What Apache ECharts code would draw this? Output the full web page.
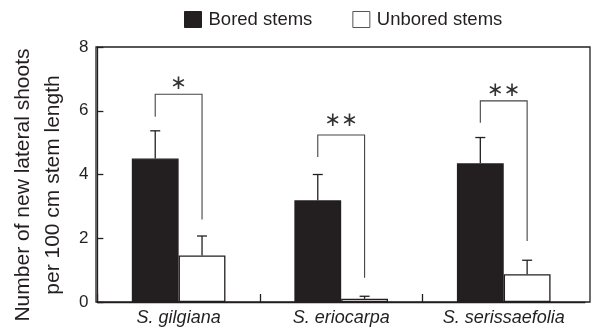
<!DOCTYPE html>
<html>
<head>
<meta charset="utf-8">
<script src="https://cdn.jsdelivr.net/npm/echarts@6/dist/echarts.min.js"></script>
<style>html,body{margin:0;padding:0;background:#fff;}#c{width:592px;height:332px;}</style>
</head>
<body>
<div id="c"></div>
<script>
const categories = ['S. gilgiana', 'S. eriocarpa', 'S. serissaefolia'];
const seriesNames = ['Bored stems', 'Unbored stems'];
const boredMean = [4.50, 3.19, 4.35];
const boredErr = [0.87, 0.81, 0.81];
const unboredMean = [1.46, 0.10, 0.87];
const unboredErr = [0.61, 0.08, 0.44];
const sigLabels = ['*', '**', '**'];
const bracketTop = [6.52, 5.24, 6.31];
const bracketLeftEnd = [5.81, 4.55, 5.62];
const bracketRightEnd = [2.59, 0.76, 1.91];
const sigLabelY = [6.85, 5.67, 6.62];
const yTicks = [0, 2, 4, 6, 8];
const yLabelLines = ['Number of new lateral shoots', 'per 100 cm stem length'];

const INK = '#231f20';
const BAR_FRAC = 0.288;

const chart = echarts.init(document.getElementById('c'), null, {renderer: 'canvas'});

function errItem(sign) {
  return function (params, api) {
    const i = api.value(0);
    const v = api.value(1);
    const e = api.value(2);
    const band = api.size([1, 0])[0];
    const dx = sign * band * BAR_FRAC / 2;
    const p0 = api.coord([i, v]);
    const p1 = api.coord([i, v + e]);
    const x = p0[0] + dx;
    return {
      type: 'group',
      children: [
        {type: 'line', shape: {x1: x, y1: p0[1], x2: x, y2: p1[1]}, style: {stroke: INK, lineWidth: 1.3}},
        {type: 'line', shape: {x1: x - 5, y1: p1[1], x2: x + 5, y2: p1[1]}, style: {stroke: INK, lineWidth: 1.3}}
      ]
    };
  };
}

function bracketItem(params, api) {
  const i = api.value(0);
  const band = api.size([1, 0])[0];
  const dx = band * BAR_FRAC / 2;
  const c = api.coord([i, api.value(1)]);
  const l = api.coord([i, api.value(2)]);
  const r = api.coord([i, api.value(3)]);
  const s = api.coord([i, api.value(4)]);
  const xl = c[0] - dx, xr = c[0] + dx;
  return {
    type: 'group',
    children: [
      {type: 'polyline', shape: {points: [[xl, l[1]], [xl, c[1]], [xr, c[1]], [xr, r[1]]]},
       style: {stroke: '#444', lineWidth: 1.1, fill: null}},
      {type: 'text', x: c[0], y: s[1],
       style: {text: sigLabels[params.dataIndex].replace(/\*/g, '\u2217'), fill: '#333',
               font: '20px "DejaVu Sans"', align: 'center', verticalAlign: 'middle'}}
    ]
  };
}

const option = {
  animation: false,
  backgroundColor: '#fff',
  textStyle: {fontFamily: 'Liberation Sans, Arial, sans-serif', color: INK},
  legend: {
    left: 184, top: 10, padding: 0,
    itemWidth: 17, itemHeight: 16, itemGap: 40,
    icon: 'rect',
    textStyle: {fontSize: 18.5, color: INK, padding: [0, 0, 0, 2]},
    data: [
      {name: seriesNames[0], itemStyle: {color: INK, borderColor: INK, borderWidth: 1}},
      {name: seriesNames[1], itemStyle: {color: '#fff', borderColor: '#555', borderWidth: 1}}
    ]
  },
  grid: [
    {left: 96, right: 7, top: 47, bottom: 30, show: false},
    {left: 96, right: 2, top: 47, bottom: 30, show: true, borderColor: INK, borderWidth: 1.3, backgroundColor: 'transparent', z: 10}
  ],
  xAxis: [
    {
      type: 'category', gridIndex: 0, data: categories,
      axisLine: {show: true, lineStyle: {color: INK, width: 1.3}},
      axisTick: {show: true, inside: true, length: 8, lineStyle: {color: INK, width: 1.3}},
      axisLabel: {fontSize: 18, fontStyle: 'italic', color: INK, margin: 7}
    },
    {type: 'value', gridIndex: 1, show: false}
  ],
  yAxis: [
    {
      type: 'value', gridIndex: 0, min: yTicks[0], max: yTicks[yTicks.length - 1], interval: 2,
      splitLine: {show: false},
      axisLine: {show: true, lineStyle: {color: INK, width: 1.3}},
      axisTick: {show: true, inside: true, length: 6, lineStyle: {color: INK, width: 1.3}},
      axisLabel: {fontSize: 17, color: INK, margin: 9},
      name: yLabelLines.join('\n'),
      nameLocation: 'middle', nameRotate: 90, nameGap: 25,
      nameTextStyle: {fontSize: 21, lineHeight: 30, color: INK, align: 'center', padding: [0, 21, 0, 0]}
    },
    {type: 'value', gridIndex: 1, show: false}
  ],
  series: [
    {
      name: seriesNames[0], type: 'bar', data: boredMean, barWidth: (BAR_FRAC * 100) + '%', barGap: '0%',
      itemStyle: {color: INK, borderColor: INK, borderWidth: 1.3}
    },
    {
      name: seriesNames[1], type: 'bar', data: unboredMean, barWidth: (BAR_FRAC * 100) + '%', barGap: '0%',
      itemStyle: {color: '#fff', borderColor: INK, borderWidth: 1.3}
    },
    {
      type: 'custom', renderItem: errItem(-1), encode: {x: 0, y: 1},
      data: boredMean.map((v, i) => [i, v, boredErr[i]]), z: 5
    },
    {
      type: 'custom', renderItem: errItem(1), encode: {x: 0, y: 1},
      data: unboredMean.map((v, i) => [i, v, unboredErr[i]]), z: 5
    },
    {
      type: 'custom', renderItem: bracketItem, encode: {x: 0, y: [1, 2, 3, 4]},
      data: categories.map((c, i) => [i, bracketTop[i], bracketLeftEnd[i], bracketRightEnd[i], sigLabelY[i]]), z: 6
    }
  ]
};
chart.setOption(option);
</script>
</body>
</html>
